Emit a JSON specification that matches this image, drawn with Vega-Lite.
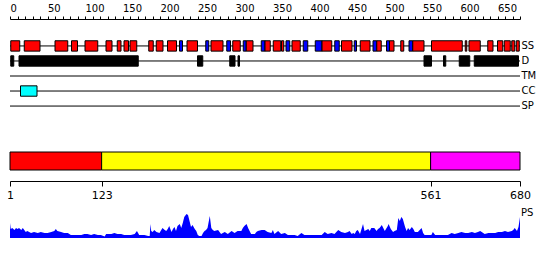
{
  "$schema": "https://vega.github.io/schema/vega-lite/v6.json",
  "padding": {"left": 6, "top": 3, "right": 5, "bottom": 5},
  "background": "white",
  "config": {
    "view": {"stroke": null},
    "font": "DejaVu Sans",
    "axis": {"domainColor": "black", "tickColor": "black", "labelColor": "black", "grid": false, "labelFont": "DejaVu Sans", "labelOverlap": false}
  },
  "spacing": 33,
  "bounds": "flush",
  "resolve": {"scale": {"x": "independent", "y": "independent", "color": "independent"}},
  "datasets": {
    "tracks": [
      {"track": "SS", "start": 0, "end": 680},
      {"track": "D", "start": 0, "end": 680},
      {"track": "TM", "start": 0, "end": 680},
      {"track": "CC", "start": 0, "end": 680},
      {"track": "SP", "start": 0, "end": 680}
    ],
    "features": [
      {"track": "SS", "type": "helix", "start": 1, "end": 13},
      {"track": "SS", "type": "helix", "start": 19, "end": 40},
      {"track": "SS", "type": "helix", "start": 60, "end": 77},
      {"track": "SS", "type": "helix", "start": 82, "end": 90},
      {"track": "SS", "type": "helix", "start": 100, "end": 117},
      {"track": "SS", "type": "helix", "start": 128, "end": 136},
      {"track": "SS", "type": "helix", "start": 143, "end": 148},
      {"track": "SS", "type": "helix", "start": 152, "end": 158},
      {"track": "SS", "type": "helix", "start": 160, "end": 169},
      {"track": "SS", "type": "helix", "start": 185, "end": 191},
      {"track": "SS", "type": "helix", "start": 195, "end": 204},
      {"track": "SS", "type": "helix", "start": 210, "end": 222},
      {"track": "SS", "type": "strand", "start": 226, "end": 230},
      {"track": "SS", "type": "helix", "start": 236, "end": 250},
      {"track": "SS", "type": "strand", "start": 261, "end": 265},
      {"track": "SS", "type": "helix", "start": 268, "end": 284},
      {"track": "SS", "type": "strand", "start": 289, "end": 294},
      {"track": "SS", "type": "helix", "start": 297, "end": 307},
      {"track": "SS", "type": "strand", "start": 311, "end": 315},
      {"track": "SS", "type": "helix", "start": 315, "end": 324},
      {"track": "SS", "type": "strand", "start": 335, "end": 340},
      {"track": "SS", "type": "helix", "start": 340, "end": 347},
      {"track": "SS", "type": "helix", "start": 351, "end": 361},
      {"track": "SS", "type": "helix", "start": 362, "end": 365},
      {"track": "SS", "type": "strand", "start": 368, "end": 373},
      {"track": "SS", "type": "helix", "start": 376, "end": 387},
      {"track": "SS", "type": "strand", "start": 391, "end": 397},
      {"track": "SS", "type": "strand", "start": 407, "end": 416},
      {"track": "SS", "type": "helix", "start": 416, "end": 429},
      {"track": "SS", "type": "strand", "start": 433, "end": 439},
      {"track": "SS", "type": "helix", "start": 442, "end": 456},
      {"track": "SS", "type": "strand", "start": 459, "end": 462},
      {"track": "SS", "type": "helix", "start": 467, "end": 480},
      {"track": "SS", "type": "strand", "start": 484, "end": 489},
      {"track": "SS", "type": "helix", "start": 489, "end": 495},
      {"track": "SS", "type": "strand", "start": 502, "end": 506},
      {"track": "SS", "type": "helix", "start": 506, "end": 512},
      {"track": "SS", "type": "helix", "start": 521, "end": 525},
      {"track": "SS", "type": "strand", "start": 532, "end": 537},
      {"track": "SS", "type": "helix", "start": 537, "end": 552},
      {"track": "SS", "type": "helix", "start": 562, "end": 603},
      {"track": "SS", "type": "helix", "start": 607, "end": 609},
      {"track": "SS", "type": "helix", "start": 612, "end": 627},
      {"track": "SS", "type": "helix", "start": 637, "end": 644},
      {"track": "SS", "type": "helix", "start": 650, "end": 657},
      {"track": "SS", "type": "helix", "start": 659, "end": 667},
      {"track": "SS", "type": "helix", "start": 669, "end": 673},
      {"track": "SS", "type": "helix", "start": 675, "end": 679},
      {"track": "D", "type": "disorder", "start": 1, "end": 5},
      {"track": "D", "type": "disorder", "start": 12, "end": 171},
      {"track": "D", "type": "disorder", "start": 250, "end": 257},
      {"track": "D", "type": "disorder", "start": 293, "end": 300},
      {"track": "D", "type": "disorder", "start": 304, "end": 306},
      {"track": "D", "type": "disorder", "start": 552, "end": 562},
      {"track": "D", "type": "disorder", "start": 578, "end": 581},
      {"track": "D", "type": "disorder", "start": 599, "end": 613},
      {"track": "D", "type": "disorder", "start": 619, "end": 678},
      {"track": "CC", "type": "coiled coil", "start": 14, "end": 36}
    ],
    "domains": [
      {"domain": "d1", "start": 1, "end": 123},
      {"domain": "d2", "start": 123, "end": 561},
      {"domain": "d3", "start": 561, "end": 680}
    ],
    "ps": [
      {"pos": 1, "score": 15}, {"pos": 2, "score": 9}, {"pos": 4, "score": 10}, {"pos": 7, "score": 8},
      {"pos": 9, "score": 10}, {"pos": 11, "score": 9}, {"pos": 13, "score": 10}, {"pos": 16, "score": 8},
      {"pos": 18, "score": 10}, {"pos": 20, "score": 8}, {"pos": 22, "score": 6}, {"pos": 24, "score": 7},
      {"pos": 29, "score": 5}, {"pos": 33, "score": 6}, {"pos": 38, "score": 5}, {"pos": 42, "score": 6},
      {"pos": 47, "score": 5}, {"pos": 51, "score": 5}, {"pos": 56, "score": 6}, {"pos": 60, "score": 7},
      {"pos": 62, "score": 9}, {"pos": 64, "score": 7}, {"pos": 69, "score": 6}, {"pos": 73, "score": 5},
      {"pos": 78, "score": 5}, {"pos": 82, "score": 3}, {"pos": 87, "score": 3}, {"pos": 91, "score": 3},
      {"pos": 96, "score": 3}, {"pos": 100, "score": 4}, {"pos": 104, "score": 4}, {"pos": 109, "score": 3},
      {"pos": 113, "score": 4}, {"pos": 118, "score": 3}, {"pos": 122, "score": 3}, {"pos": 127, "score": 1.5},
      {"pos": 129, "score": 4}, {"pos": 136, "score": 4}, {"pos": 140, "score": 5}, {"pos": 144, "score": 4},
      {"pos": 149, "score": 4}, {"pos": 153, "score": 3}, {"pos": 158, "score": 3}, {"pos": 162, "score": 3},
      {"pos": 167, "score": 4}, {"pos": 170, "score": 7}, {"pos": 173, "score": 3}, {"pos": 180, "score": 3},
      {"pos": 185, "score": 2}, {"pos": 187, "score": 2}, {"pos": 188, "score": 14}, {"pos": 189, "score": 7},
      {"pos": 191, "score": 6}, {"pos": 193, "score": 8}, {"pos": 196, "score": 6}, {"pos": 200, "score": 5},
      {"pos": 204, "score": 10}, {"pos": 207, "score": 8}, {"pos": 209, "score": 7}, {"pos": 211, "score": 9},
      {"pos": 213, "score": 12}, {"pos": 216, "score": 6}, {"pos": 218, "score": 9}, {"pos": 220, "score": 11},
      {"pos": 222, "score": 7}, {"pos": 224, "score": 12}, {"pos": 227, "score": 14}, {"pos": 229, "score": 10},
      {"pos": 231, "score": 15}, {"pos": 233, "score": 21}, {"pos": 236, "score": 24}, {"pos": 238, "score": 23},
      {"pos": 240, "score": 17}, {"pos": 242, "score": 11}, {"pos": 244, "score": 13}, {"pos": 247, "score": 9},
      {"pos": 249, "score": 7}, {"pos": 251, "score": 3}, {"pos": 253, "score": 2}, {"pos": 256, "score": 2},
      {"pos": 258, "score": 5}, {"pos": 260, "score": 7}, {"pos": 262, "score": 8}, {"pos": 264, "score": 10},
      {"pos": 267, "score": 22}, {"pos": 269, "score": 10}, {"pos": 271, "score": 8}, {"pos": 273, "score": 7},
      {"pos": 278, "score": 8}, {"pos": 282, "score": 4}, {"pos": 287, "score": 6}, {"pos": 291, "score": 4},
      {"pos": 296, "score": 7}, {"pos": 300, "score": 5}, {"pos": 304, "score": 7}, {"pos": 309, "score": 7},
      {"pos": 311, "score": 10}, {"pos": 313, "score": 12}, {"pos": 316, "score": 14}, {"pos": 318, "score": 10},
      {"pos": 320, "score": 7}, {"pos": 322, "score": 4}, {"pos": 327, "score": 4}, {"pos": 329, "score": 6},
      {"pos": 331, "score": 7}, {"pos": 336, "score": 8}, {"pos": 340, "score": 8}, {"pos": 344, "score": 6},
      {"pos": 349, "score": 5}, {"pos": 351, "score": 8}, {"pos": 353, "score": 4}, {"pos": 358, "score": 7},
      {"pos": 362, "score": 4}, {"pos": 367, "score": 5}, {"pos": 371, "score": 3}, {"pos": 376, "score": 3},
      {"pos": 380, "score": 3}, {"pos": 384, "score": 2}, {"pos": 389, "score": 5}, {"pos": 393, "score": 3},
      {"pos": 398, "score": 3}, {"pos": 402, "score": 3}, {"pos": 407, "score": 3}, {"pos": 411, "score": 3},
      {"pos": 416, "score": 3}, {"pos": 420, "score": 6}, {"pos": 424, "score": 4}, {"pos": 429, "score": 5},
      {"pos": 433, "score": 4}, {"pos": 438, "score": 8}, {"pos": 440, "score": 7}, {"pos": 442, "score": 6},
      {"pos": 447, "score": 5}, {"pos": 451, "score": 6}, {"pos": 453, "score": 7}, {"pos": 456, "score": 4},
      {"pos": 458, "score": 5}, {"pos": 460, "score": 4}, {"pos": 462, "score": 7}, {"pos": 464, "score": 8},
      {"pos": 467, "score": 4}, {"pos": 471, "score": 14}, {"pos": 473, "score": 7}, {"pos": 478, "score": 9},
      {"pos": 480, "score": 7}, {"pos": 482, "score": 10}, {"pos": 486, "score": 10}, {"pos": 489, "score": 7},
      {"pos": 491, "score": 9}, {"pos": 493, "score": 10}, {"pos": 496, "score": 13}, {"pos": 498, "score": 10},
      {"pos": 500, "score": 7}, {"pos": 504, "score": 12}, {"pos": 505, "score": 14}, {"pos": 508, "score": 9},
      {"pos": 511, "score": 6}, {"pos": 513, "score": 7}, {"pos": 516, "score": 8}, {"pos": 518, "score": 20},
      {"pos": 520, "score": 17}, {"pos": 522, "score": 21}, {"pos": 524, "score": 19}, {"pos": 527, "score": 11},
      {"pos": 529, "score": 7}, {"pos": 531, "score": 10}, {"pos": 533, "score": 8}, {"pos": 536, "score": 11},
      {"pos": 538, "score": 9}, {"pos": 540, "score": 6}, {"pos": 544, "score": 6}, {"pos": 549, "score": 10},
      {"pos": 551, "score": 5}, {"pos": 553, "score": 3}, {"pos": 558, "score": 3}, {"pos": 562, "score": 3},
      {"pos": 564, "score": 6}, {"pos": 567, "score": 3}, {"pos": 576, "score": 3}, {"pos": 584, "score": 3},
      {"pos": 589, "score": 5}, {"pos": 593, "score": 4}, {"pos": 598, "score": 5}, {"pos": 602, "score": 6},
      {"pos": 607, "score": 5}, {"pos": 611, "score": 5}, {"pos": 616, "score": 6}, {"pos": 620, "score": 5},
      {"pos": 624, "score": 6}, {"pos": 627, "score": 7}, {"pos": 629, "score": 6}, {"pos": 633, "score": 4},
      {"pos": 638, "score": 5}, {"pos": 642, "score": 5}, {"pos": 647, "score": 5}, {"pos": 651, "score": 6},
      {"pos": 656, "score": 6}, {"pos": 660, "score": 7}, {"pos": 664, "score": 6}, {"pos": 669, "score": 7},
      {"pos": 671, "score": 8}, {"pos": 673, "score": 10}, {"pos": 676, "score": 7}, {"pos": 678, "score": 11},
      {"pos": 680, "score": 21}
    ],
    "pslabel": [{"label": "PS", "pos": 680, "score": 25}]
  },
  "vconcat": [
    {
      "width": 510,
      "height": 84,
      "encoding": {
        "x": {
          "field": "start", "type": "quantitative",
          "scale": {"domain": [0, 680], "nice": false, "zero": false},
          "axis": {
            "orient": "top", "title": null, "offset": 15,
            "values": [0,10,20,30,40,50,60,70,80,90,100,110,120,130,140,150,160,170,180,190,200,210,220,230,240,250,260,270,280,290,300,310,320,330,340,350,360,370,380,390,400,410,420,430,440,450,460,470,480,490,500,510,520,530,540,550,560,570,580,590,600,610,620,630,640,650,660,670,680],
            "labelExpr": "datum.value % 50 === 0 ? datum.label : ''",
            "labelAlign": "left", "labelFontSize": 10, "labelPadding": 3,
            "tickSize": 3, "labelOverlap": false, "labelFlush": false, "labelBound": false
          }
        },
        "x2": {"field": "end"},
        "y": {
          "field": "track", "type": "nominal",
          "scale": {"domain": ["SS", "D", "TM", "CC", "SP"], "paddingInner": 0.31, "paddingOuter": 0.45},
          "axis": {
            "orient": "right", "title": null, "domain": false, "ticks": false, "tickSize": 0,
            "labelPadding": 1, "labelAlign": "left", "labelFontSize": 10
          }
        }
      },
      "layer": [
        {
          "data": {"name": "tracks"},
          "mark": {"type": "rule", "color": "black", "strokeWidth": 1}
        },
        {
          "data": {"name": "features"},
          "mark": {"type": "bar", "stroke": "black", "strokeWidth": 1},
          "encoding": {
            "color": {
              "field": "type", "type": "nominal",
              "scale": {"domain": ["helix", "strand", "disorder", "coiled coil"], "range": ["#ff0000", "#0000ff", "#000000", "#00ffff"]},
              "legend": null
            }
          }
        }
      ]
    },
    {
      "width": 510,
      "height": 20,
      "data": {"name": "domains"},
      "mark": {"type": "bar", "stroke": "black", "strokeWidth": 1},
      "encoding": {
        "x": {
          "field": "start", "type": "quantitative",
          "scale": {"domain": [1, 680], "nice": false, "zero": false},
          "axis": {
            "orient": "bottom", "title": null, "values": [1, 123, 561, 680],
            "offset": 10, "tickSize": 5, "labelFontSize": 11, "labelPadding": 3,
            "labelOverlap": false, "labelFlush": false
          }
        },
        "x2": {"field": "end"},
        "color": {
          "field": "domain", "type": "nominal",
          "scale": {"domain": ["d1", "d2", "d3"], "range": ["#ff0000", "#ffff00", "#ff00ff"]},
          "legend": null
        }
      }
    },
    {
      "width": 510,
      "height": 34,
      "layer": [
        {
          "data": {"name": "ps"},
          "mark": {"type": "area", "color": "#0000ff", "interpolate": "linear"},
          "encoding": {
            "x": {"field": "pos", "type": "quantitative", "scale": {"domain": [1, 680], "nice": false, "zero": false}, "axis": null},
            "y": {"field": "score", "type": "quantitative", "scale": {"domain": [0, 34], "nice": false}, "axis": null}
          }
        },
        {
          "data": {"name": "pslabel"},
          "mark": {"type": "text", "align": "left", "baseline": "middle", "dx": 1, "fontSize": 10, "color": "black"},
          "encoding": {
            "x": {"field": "pos", "type": "quantitative"},
            "y": {"field": "score", "type": "quantitative"},
            "text": {"field": "label"}
          }
        }
      ]
    }
  ]
}
